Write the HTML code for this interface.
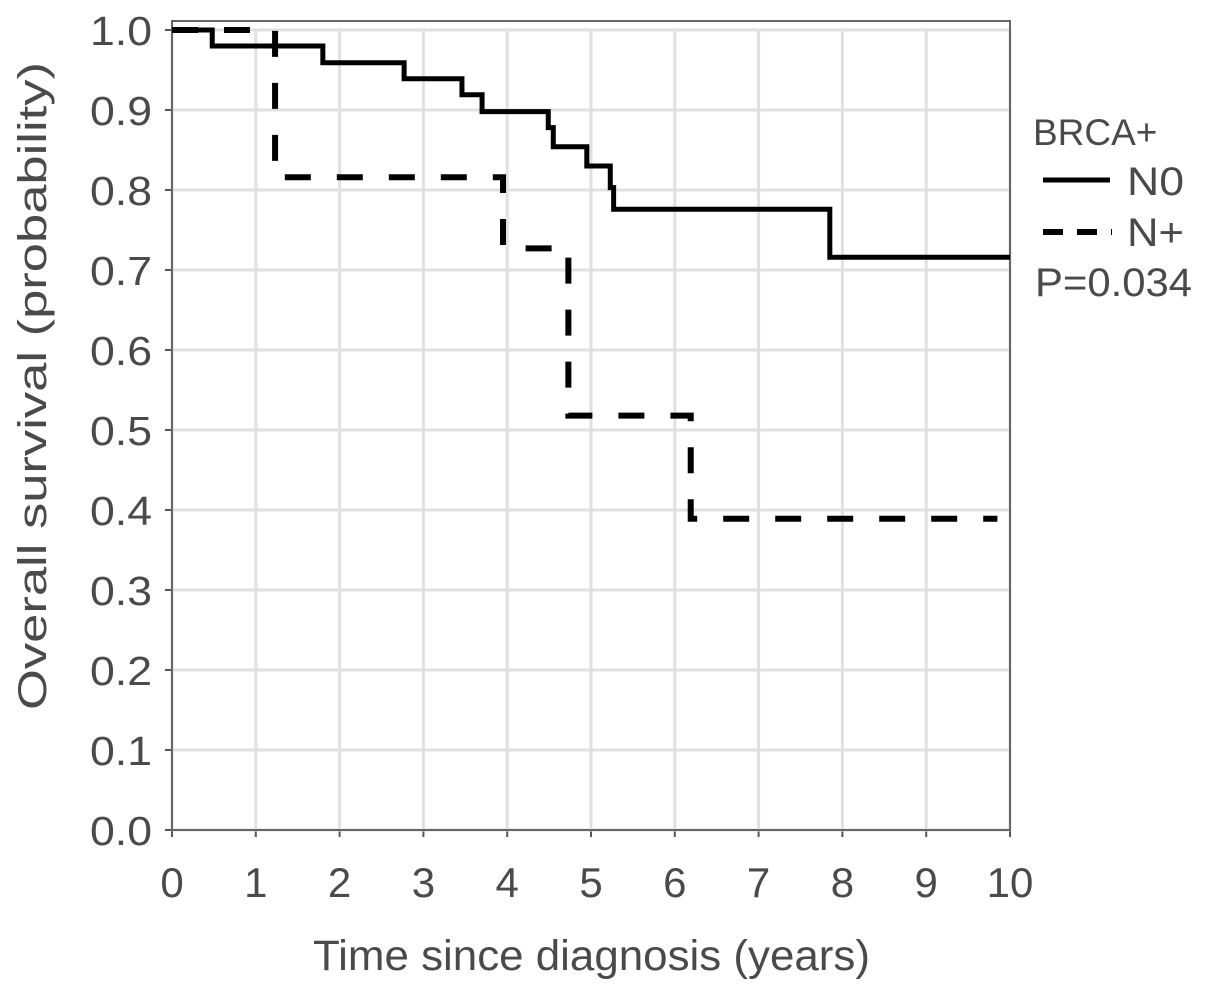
<!DOCTYPE html>
<html><head><meta charset="utf-8"><style>
html,body{margin:0;padding:0;background:#fff;}
svg{display:block;font-family:"Liberation Sans",sans-serif;}
</style></head><body>
<svg id="chart" width="1205" height="991" xmlns="http://www.w3.org/2000/svg"></svg>
<script>
const xTicks=[0,1,2,3,4,5,6,7,8,9,10];
const yTicks=[0,0.1,0.2,0.3,0.4,0.5,0.6,0.7,0.8,0.9,1.0];
const n0Times=[0,0.48,1.8,2.77,3.46,3.7,4.49,4.55,4.95,5.23,5.27,7.85,10];
const n0Surv=[1.0,0.98,0.959,0.939,0.919,0.898,0.878,0.854,0.83,0.803,0.776,0.716,0.716];
const npTimes=[0,1.23,3.95,4.73,6.19,9.85];
const npSurv=[1.0,0.816,0.727,0.518,0.389,0.389];
const X0=172,X1=1010,Y0=830,Y1=30;
const sx=t=>X0+(t/10)*(X1-X0);
const sy=v=>Y0-v*(Y0-Y1);
const svg=document.getElementById('chart');
const NS='http://www.w3.org/2000/svg';
function mk(tag,attrs){const e=document.createElementNS(NS,tag);for(const k in attrs)e.setAttribute(k,attrs[k]);svg.appendChild(e);return e;}
xTicks.forEach(t=>{
 const g=mk('line',{x1:sx(t),x2:sx(t),y1:Y1,y2:Y0,stroke:'#e0e0e0','stroke-width':3});
 
 
 const tk=mk('line',{x1:sx(t),x2:sx(t),y1:Y0,y2:Y0+7,stroke:'#555','stroke-width':2});
 
 
 const l=mk('text',{x:sx(t),y:897,'text-anchor':'middle','font-size':42,fill:'#4a4a4a'});
 l.textContent=t;
 
 
});
yTicks.forEach(v=>{
 const g=mk('line',{x1:X0,x2:X1,y1:sy(v),y2:sy(v),stroke:'#e0e0e0','stroke-width':3});
 
 
 const tk=mk('line',{x1:X0-7,x2:X0,y1:sy(v),y2:sy(v),stroke:'#555','stroke-width':2});
 
 
 const l=mk('text',{x:90,y:sy(v)+15,'font-size':41,fill:'#4a4a4a',textLength:62,lengthAdjust:'spacingAndGlyphs'});
 l.textContent=v.toFixed(1);
 
 
});
const frame=mk('rect',{x:X0,y:21,width:X1-X0,height:Y0-21,fill:'none',stroke:'#666','stroke-width':2});


function stepPath(ts,vs){let d='M'+sx(ts[0])+','+sy(vs[0]);for(let i=1;i<ts.length;i++){d+=' H'+sx(ts[i])+' V'+sy(vs[i]);}return d;}
const p1=mk('path',{d:stepPath(n0Times,n0Surv),fill:'none',stroke:'#000','stroke-width':5});


const p2=mk('path',{d:stepPath(npTimes,npSurv),fill:'none',stroke:'#000','stroke-width':6,'stroke-dasharray':'26,26'});


const xt=mk('text',{x:313,y:970,'font-size':43,fill:'#4a4a4a',textLength:557,lengthAdjust:'spacingAndGlyphs'});
xt.textContent='Time since diagnosis (years)';


const yt=mk('text',{x:0,y:0,'font-size':40,fill:'#4a4a4a',textLength:648,lengthAdjust:'spacingAndGlyphs',transform:'translate(46,710) rotate(-90)'});
yt.textContent='Overall survival (probability)';


const lt=mk('text',{x:1033,y:145,'font-size':37,fill:'#4a4a4a'});
lt.textContent='BRCA+';


const l1=mk('line',{x1:1043,x2:1110,y1:180,y2:180,stroke:'#000','stroke-width':5});


const t1=mk('text',{x:1127,y:195,'font-size':40,fill:'#4a4a4a',textLength:57,lengthAdjust:'spacingAndGlyphs'});
t1.textContent='N0';


const l2=mk('line',{x1:1043,x2:1112,y1:232,y2:232,stroke:'#000','stroke-width':6,'stroke-dasharray':'20,14'});


const t2=mk('text',{x:1127,y:246,'font-size':40,fill:'#4a4a4a',textLength:57,lengthAdjust:'spacingAndGlyphs'});
t2.textContent='N+';


const pv=mk('text',{x:1035,y:296,'font-size':40,fill:'#4a4a4a',textLength:157,lengthAdjust:'spacingAndGlyphs'});
pv.textContent='P=0.034';


</script>
</body></html>
